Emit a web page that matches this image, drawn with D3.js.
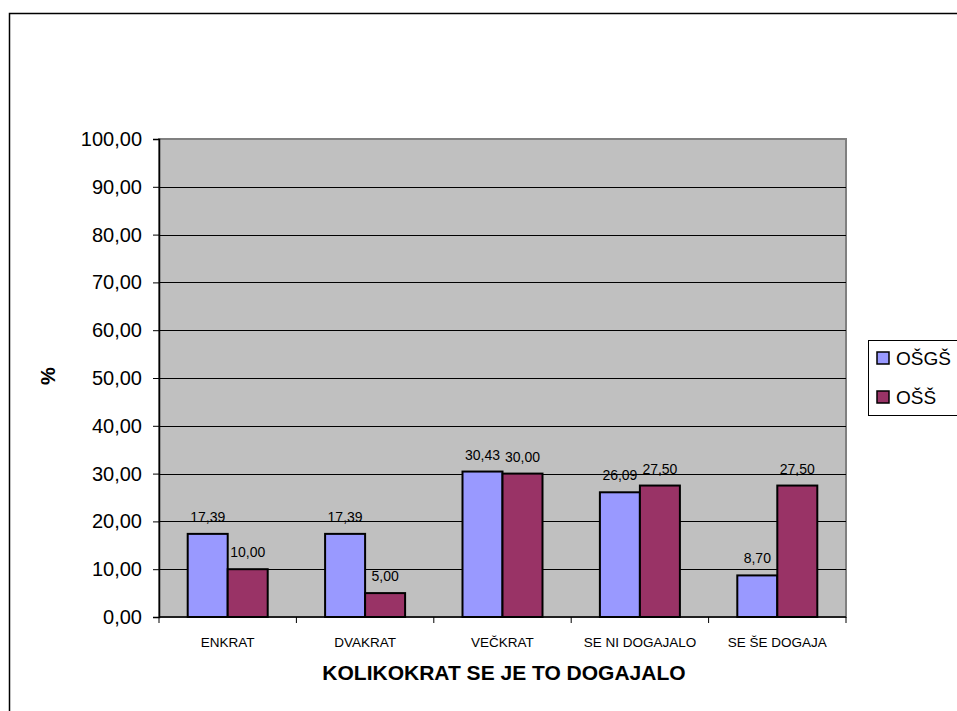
<!DOCTYPE html>
<html><head><meta charset="utf-8">
<script src="https://cdn.jsdelivr.net/npm/d3@7"></script>
<style>body{margin:0;background:#fff}svg{display:block;font-family:Arial,"Liberation Sans",sans-serif}</style>
</head><body>
<script>
const categories = ["ENKRAT","DVAKRAT","VEČKRAT","SE NI DOGAJALO","SE ŠE DOGAJA"];
const seriesNames = ["OŠGŠ","OŠŠ"];
const osgs = [17.39, 17.39, 30.43, 26.09, 8.70];
const oss  = [10.00, 5.00, 30.00, 27.50, 27.50];
const yTicks = [0,10,20,30,40,50,60,70,80,90,100];
const colors = ["#9999FF","#993366"];
const fmt = v => v.toFixed(2).replace(".", ",");

const W = 957, H = 711;
const svg = d3.select("body").append("svg").attr("width", W).attr("height", H);
// outer chart border
svg.append("rect").attr("x", 9.5).attr("y", 13.5).attr("width", 1000).attr("height", 800)
  .attr("fill", "#fff").attr("stroke", "#000").attr("stroke-width", 1.5);

const L = 159, R = 846, T = 139, B = 617;
const x = d3.scaleBand().domain(categories).range([L, R]).paddingInner(0).paddingOuter(0);
const y = d3.scaleLinear().domain([0, 100]).range([B, T]);
const bw = 40;

svg.append("rect").attr("x", L).attr("y", T).attr("width", R - L).attr("height", B - T)
  .attr("fill", "#C0C0C0").attr("stroke", "#808080").attr("stroke-width", 2);

// gridlines
svg.append("g").selectAll("line").data(yTicks.filter(t => t > 0 && t < 100)).join("line")
  .attr("x1", L).attr("x2", R).attr("y1", d => Math.round(y(d)) + 0.5).attr("y2", d => Math.round(y(d)) + 0.5)
  .attr("stroke", "#000").attr("stroke-width", 1);

// y axis
const yAxis = d3.axisLeft(y).tickValues(yTicks).tickFormat(fmt).tickSize(6).tickPadding(11);
const gy = svg.append("g").attr("transform", `translate(${L},0)`).call(yAxis);
gy.select(".domain").attr("stroke", "#000").attr("stroke-width", 1.5);
gy.selectAll(".tick line").attr("stroke", "#000");
gy.selectAll(".tick text").attr("font-size", 20).attr("fill", "#000").attr("font-family", "Arial, 'Liberation Sans', sans-serif");

// x axis
const gx = svg.append("g").attr("transform", `translate(0,${B})`);
gx.append("line").attr("x1", L).attr("x2", R).attr("y1", 0).attr("y2", 0).attr("stroke", "#000").attr("stroke-width", 1.5);
const bounds = categories.map(c => x(c)).concat([R]);
gx.selectAll("line.tk").data(bounds).join("line").attr("class", "tk")
  .attr("x1", d => d).attr("x2", d => d).attr("y1", 0).attr("y2", 6).attr("stroke", "#000");
gx.selectAll("text").data(categories).join("text")
  .attr("x", d => x(d) + x.bandwidth() / 2).attr("y", 30).attr("text-anchor", "middle")
  .attr("font-size", 13.5).text(d => d);

// bars
const series = [osgs, oss];
series.forEach((vals, si) => {
  const g = svg.append("g");
  g.selectAll("rect").data(vals).join("rect")
    .attr("x", (d, i) => x(categories[i]) + x.bandwidth() / 2 - bw + si * bw)
    .attr("y", d => y(d)).attr("width", bw).attr("height", d => B - y(d))
    .attr("fill", colors[si]).attr("stroke", "#000").attr("stroke-width", 2);
  g.selectAll("text").data(vals).join("text")
    .attr("x", (d, i) => x(categories[i]) + x.bandwidth() / 2 - bw / 2 + si * bw)
    .attr("y", d => y(d) - 12).attr("text-anchor", "middle").attr("font-size", 14)
    .text(fmt);
});

// axis titles
svg.append("text").attr("transform", "translate(55,376) rotate(-90)").attr("text-anchor", "middle")
  .attr("font-size", 20).attr("font-weight", "bold").text("%");
svg.append("text").attr("x", 504).attr("y", 680).attr("text-anchor", "middle")
  .attr("font-size", 21).attr("font-weight", "bold").text("KOLIKOKRAT SE JE TO DOGAJALO");

// legend
const lg = svg.append("g");
lg.append("rect").attr("x", 868.5).attr("y", 340.5).attr("width", 120).attr("height", 75)
  .attr("fill", "#fff").attr("stroke", "#000").attr("stroke-width", 1);
seriesNames.forEach((n, i) => {
  const cy = 358 + i * 39;
  lg.append("rect").attr("x", 877).attr("y", cy - 6).attr("width", 12).attr("height", 12)
    .attr("fill", colors[i]).attr("stroke", "#000").attr("stroke-width", 1.5);
  lg.append("text").attr("x", 896).attr("y", cy + 7).attr("font-size", 19).text(n);
});
</script>
</body></html>
